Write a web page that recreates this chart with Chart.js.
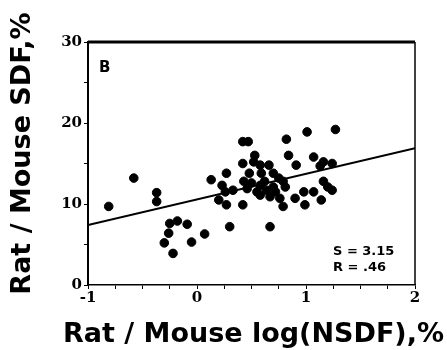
<!DOCTYPE html>
<html>
<head>
<meta charset="utf-8">
<script src="https://cdn.jsdelivr.net/npm/chart.js@4/dist/chart.umd.min.js"></script>
<style>
  body { margin: 0; background: #fff; }
</style>
</head>
<body>
<canvas id="ratChart" width="447" height="350"></canvas>
<script>
// values
const ratioX = [
  -0.81, -0.58, -0.37, -0.37, -0.25, -0.18, -0.26, -0.30, -0.22, -0.09, -0.05, 0.07,
  0.13, 0.27, 0.23, 0.26, 0.33, 0.20, 0.27, 0.30, 0.42, 0.42, 0.47, 0.53, 0.42, 0.52,
  0.58, 0.66, 0.48, 0.59, 0.70, 0.43, 0.50, 0.46, 0.55, 0.64, 0.67, 0.67, 0.58, 0.58,
  0.70, 0.62,
  0.82, 1.01, 1.27, 0.84, 0.91, 1.07, 1.16, 1.24, 1.13, 0.75, 0.81, 0.72, 0.76, 0.79,
  0.90, 0.98, 0.99, 1.07, 1.14, 1.16, 1.20, 1.24, 0.79
];
const ratioY = [
  9.7, 13.2, 11.4, 10.3, 7.6, 7.9, 6.4, 5.2, 3.9, 7.5, 5.3, 6.3,
  13.0, 13.8, 12.3, 11.5, 11.7, 10.5, 9.9, 7.2, 9.9, 17.7, 17.7, 16.0, 15.0, 15.2,
  14.8, 14.8, 13.8, 13.8, 13.8, 12.8, 12.6, 11.9, 11.5, 11.7, 10.9, 7.2, 12.3, 11.1,
  12.1, 12.8,
  18.0, 18.9, 19.2, 16.0, 14.8, 15.8, 15.2, 15.0, 14.7, 13.2, 12.1, 11.5, 10.7, 9.7,
  10.7, 11.5, 9.9, 11.5, 10.5, 12.8, 12.1, 11.7, 12.8
];
const fitX = [-1, 2];
const fitY = [7.4, 16.9];

const panelLabel = "B";
const statLines = ["S = 3.15", "R = .46"];
const xTitle = "Rat / Mouse log(NSDF),%";
const yTitle = "Rat / Mouse SDF,%";

const tickFont = { family: "DejaVu Serif", size: 15, weight: "bold" };

// frame, corner labels and axis titles (drawn here so Chart.js doesn't squeeze them)
const framePlugin = {
  id: "frame",
  afterDraw(chart) {
    const ctx = chart.ctx;
    const a = chart.chartArea;
    ctx.save();
    ctx.strokeStyle = "#000";
    ctx.lineWidth = 3;
    ctx.beginPath();
    ctx.moveTo(a.left, a.top);
    ctx.lineTo(a.right, a.top);
    ctx.stroke();
    ctx.lineWidth = 1.5;
    ctx.beginPath();
    ctx.moveTo(a.right, a.top);
    ctx.lineTo(a.right, a.bottom);
    ctx.stroke();

    ctx.fillStyle = "#000";
    ctx.font = "bold 15px 'DejaVu Sans'";
    ctx.textBaseline = "middle";
    ctx.fillText(panelLabel, a.left + 11, a.top + 26);

    ctx.font = "bold 13px 'DejaVu Sans'";
    ctx.fillText(statLines[0], a.right - 82, a.bottom - 33);
    ctx.fillText(statLines[1], a.right - 82, a.bottom - 17);

    ctx.textAlign = "center";
    ctx.textBaseline = "alphabetic";
    ctx.font = "bold 27px 'DejaVu Sans'";
    ctx.fillText(xTitle, (a.left + a.right) / 2 + 2, chart.height - 8);

    ctx.textBaseline = "middle";
    ctx.translate(23, (a.top + a.bottom) / 2 - 10);
    ctx.rotate(-Math.PI / 2);
    ctx.fillText(yTitle, 0, 0);
    ctx.restore();
  }
};

new Chart(document.getElementById("ratChart"), {
  type: "scatter",
  data: {
    datasets: [{
      data: ratioX.map((x, i) => ({ x: x, y: ratioY[i] })),
      backgroundColor: "#000",
      borderColor: "#000",
      pointRadius: 4.3,
      pointHoverRadius: 4.3
    }, {
      type: "line",
      data: fitX.map((x, i) => ({ x: x, y: fitY[i] })),
      borderColor: "#000",
      borderWidth: 2,
      pointRadius: 0,
      fill: false
    }]
  },
  plugins: [framePlugin],
  options: {
    responsive: false,
    animation: false,
    layout: { padding: { top: 42, right: 32, left: 0, bottom: 0 } },
    plugins: { legend: { display: false }, tooltip: { enabled: false } },
    scales: {
      x: {
        type: "linear",
        min: -1,
        max: 2,
        afterFit(scale) { scale.height = 65; },
        border: { color: "#000", width: 1.5 },
        grid: { drawOnChartArea: false, color: "#000", tickLength: 4 },
        ticks: {
          stepSize: 0.25,
          color: "#000",
          font: tickFont,
          padding: 0,
          maxRotation: 0,
          autoSkip: false,
          callback: v => Number.isInteger(v) ? String(v) : ""
        }
      },
      y: {
        min: 0,
        max: 30,
        afterFit(scale) { scale.width = 88; },
        border: { color: "#000", width: 2 },
        grid: { drawOnChartArea: false, color: "#000", tickLength: 4 },
        ticks: {
          stepSize: 5,
          color: "#000",
          font: tickFont,
          padding: 2,
          callback: v => v % 10 === 0 ? String(v) : ""
        }
      }
    }
  }
});
</script>
</body>
</html>
